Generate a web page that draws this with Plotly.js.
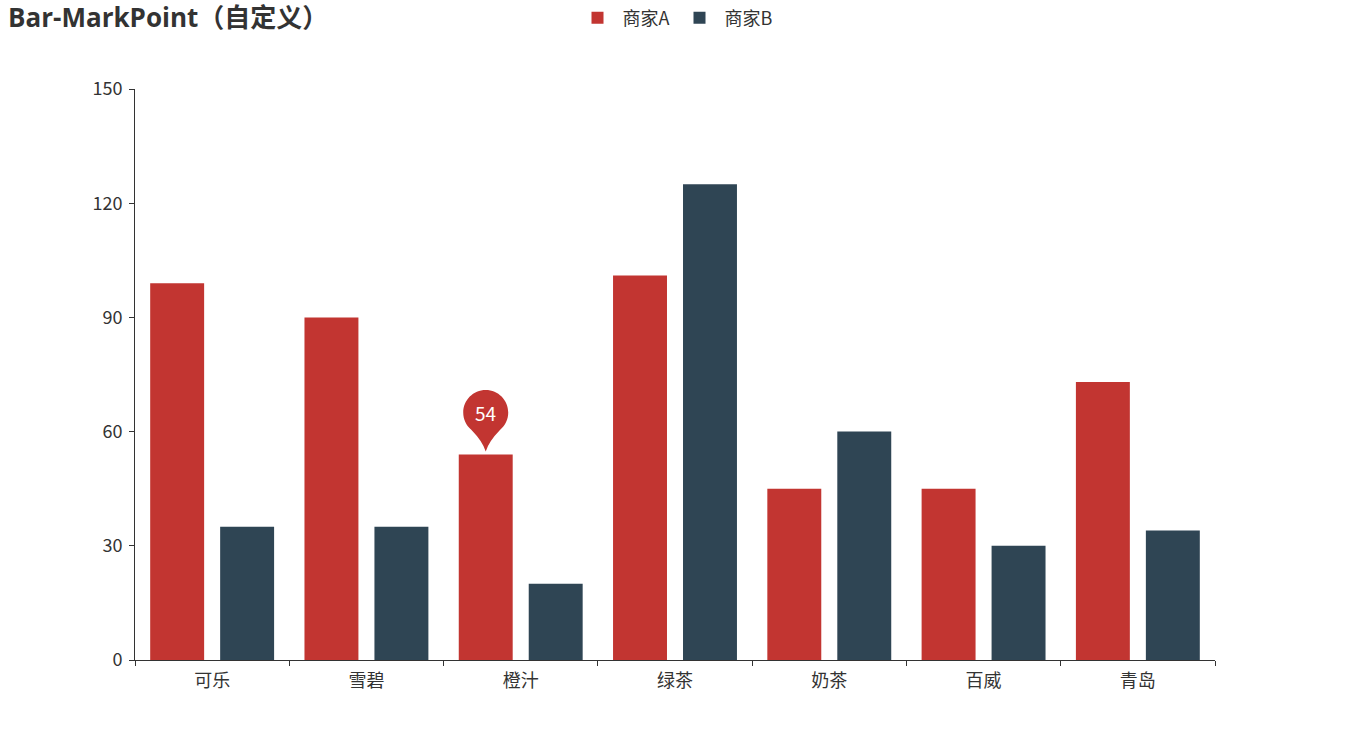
<!DOCTYPE html>
<html>
<head>
<meta charset="utf-8">
<script src="https://cdn.plot.ly/plotly-3.0.1.min.js"></script>
<style>html,body{margin:0;padding:0;background:#fff;}#chart{width:1350px;height:750px;}</style>
</head>
<body>
<div id="chart"></div>
<script>
var categories = ["可乐", "雪碧", "橙汁", "绿茶", "奶茶", "百威", "青岛"];
var seriesA = [99, 90, 54, 101, 45, 45, 73];
var seriesB = [35, 35, 20, 125, 60, 30, 34];
var seriesNames = ["商家A", "商家B"];
var yTicks = [0, 30, 60, 90, 120, 150];
var markCategory = "橙汁";

var colorA = "#c23531", colorB = "#2f4554";
var fontFam = "'Noto Sans CJK SC', 'Noto Sans', sans-serif";
var titleFam = "'Open Sans', 'Noto Sans CJK SC', sans-serif";
var bargap = 0.093, bargroupgap = 0.229;

var markIdx = categories.indexOf(markCategory);
var markVal = seriesA[markIdx];
// center of first bar within group, in category units
var markX = markIdx - (1 - bargap) / 4;

// pin path in pixels relative to anchor (tip above bar top)
var r = 22.5, c = 42, t = 3;
function p(x, y) { return x.toFixed(2) + "," + y.toFixed(2); }
var k = 0.5523 * r;
var a = 50 * Math.PI / 180;
var kk = 4 / 3 * Math.tan(a / 4) * r;
var ex = r * Math.cos(a), ey = c - r * Math.sin(a);
var path = "M" + p(0, t) +
  " Q" + p(-3, t + 10) + " " + p(-ex, ey) +
  " C" + p(-ex - kk * Math.sin(a), ey + kk * Math.cos(a)) + " " + p(-r, c - kk) + " " + p(-r, c) +
  " C" + p(-r, c + k) + " " + p(-k, c + r) + " " + p(0, c + r) +
  " C" + p(k, c + r) + " " + p(r, c + k) + " " + p(r, c) +
  " C" + p(r, c - kk) + " " + p(ex + kk * Math.sin(a), ey + kk * Math.cos(a)) + " " + p(ex, ey) +
  " Q" + p(3, t + 10) + " " + p(0, t) + " Z";

var traces = [
  {type: "bar", name: seriesNames[0], x: categories, y: seriesA, marker: {color: colorA}, hoverinfo: "x+y+name"},
  {type: "bar", name: seriesNames[1], x: categories, y: seriesB, marker: {color: colorB}, hoverinfo: "x+y+name"}
];

var layout = {
  width: 1350, height: 750,
  margin: {l: 135, r: 135, t: 89, b: 90, autoexpand: false},
  paper_bgcolor: "#fff", plot_bgcolor: "#fff",
  font: {family: fontFam, color: "#333", size: 18},
  title: {text: "<b>Bar-MarkPoint（自定义）</b>", x: 0.006, xanchor: "left", y: 0.976, yanchor: "middle",
          font: {family: titleFam, size: 26, color: "#333"}},
  showlegend: true,
  legend: {orientation: "h", x: 0.5, xanchor: "center", xref: "container", yref: "container",
           y: 0.976, yanchor: "middle",
           font: {family: fontFam, size: 18, color: "#333"}, itemwidth: 40, traceorder: "normal"},
  barmode: "group", bargap: bargap, bargroupgap: bargroupgap,
  xaxis: {type: "category", showline: true, linecolor: "#333", linewidth: 1, ticks: "outside",
          tickson: "boundaries", ticklen: 5, tickcolor: "#333", showgrid: false, zeroline: false,
          ticklabelstandoff: 4, tickfont: {size: 18, color: "#333"}, fixedrange: true},
  yaxis: {range: [0, 150], tickvals: yTicks, showline: true, linecolor: "#333", linewidth: 1,
          ticks: "outside", ticklen: 5, tickcolor: "#333", showgrid: false, zeroline: false,
          ticklabelstandoff: 3, tickfont: {size: 18, color: "#333"}, fixedrange: true},
  shapes: [{type: "path", xref: "x", yref: "y", xsizemode: "pixel", ysizemode: "pixel",
            xanchor: markX, yanchor: markVal, path: path, fillcolor: colorA, line: {width: 0}}],
  annotations: [{x: markX, y: markVal, xref: "x", yref: "y", text: String(markVal), showarrow: false,
                 yshift: c, font: {family: fontFam, size: 19, color: "#fff"}}]
};

Plotly.newPlot("chart", traces, layout, {displayModeBar: false, responsive: false});
</script>
</body>
</html>
